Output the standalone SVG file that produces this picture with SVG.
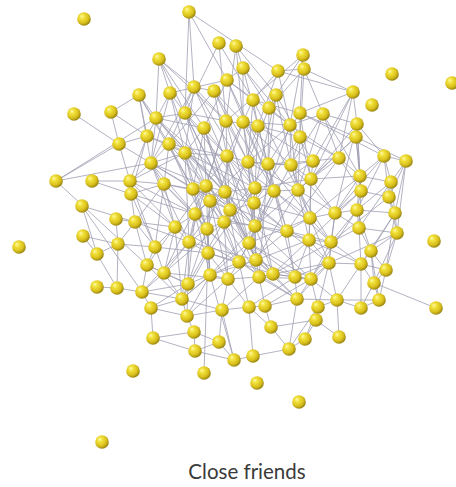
<svg xmlns="http://www.w3.org/2000/svg" width="456" height="487" viewBox="0 0 456 487">
<style>
.e line{stroke:#a09eb2;stroke-width:0.8;stroke-linecap:round}
.b{fill:url(#ball)}
.t{font-family:Lato,"Open Sans","Liberation Sans",sans-serif;font-size:20.5px;fill:#3a3a3a}
</style>
<defs>
<radialGradient id="ball" cx="0.4" cy="0.38" r="0.62" fx="0.34" fy="0.3">
<stop offset="0" stop-color="#fdf8b0"/>
<stop offset="0.28" stop-color="#f2e23c"/>
<stop offset="0.72" stop-color="#d9bf1c"/>
<stop offset="1" stop-color="#9a8712"/>
</radialGradient>
</defs>
<rect width="456" height="487" fill="#fff"/>
<g id="connectors" class="e">
<line x1="189" y1="12" x2="194" y2="87"/><line x1="189" y1="12" x2="227" y2="80"/><line x1="189" y1="12" x2="278" y2="71"/><line x1="189" y1="12" x2="185" y2="113"/>
<line x1="219" y1="43" x2="226" y2="121"/><line x1="219" y1="43" x2="253" y2="100"/>
<line x1="236" y1="46" x2="243" y2="68"/><line x1="236" y1="46" x2="276" y2="95"/><line x1="236" y1="46" x2="243" y2="122"/>
<line x1="159" y1="59" x2="194" y2="87"/><line x1="159" y1="59" x2="170" y2="93"/><line x1="159" y1="59" x2="156" y2="118"/><line x1="159" y1="59" x2="204" y2="128"/>
<line x1="243" y1="68" x2="227" y2="80"/><line x1="243" y1="68" x2="258" y2="126"/><line x1="243" y1="68" x2="269" y2="108"/>
<line x1="278" y1="71" x2="304" y2="69"/><line x1="278" y1="71" x2="353" y2="92"/><line x1="278" y1="71" x2="253" y2="100"/><line x1="278" y1="71" x2="290" y2="125"/>
<line x1="303" y1="55" x2="276" y2="95"/><line x1="303" y1="55" x2="300" y2="113"/><line x1="303" y1="55" x2="226" y2="121"/>
<line x1="304" y1="69" x2="353" y2="92"/><line x1="304" y1="69" x2="323" y2="114"/><line x1="304" y1="69" x2="269" y2="108"/>
<line x1="139" y1="95" x2="156" y2="118"/><line x1="139" y1="95" x2="169" y2="144"/><line x1="139" y1="95" x2="111" y2="112"/>
<line x1="170" y1="93" x2="185" y2="113"/><line x1="170" y1="93" x2="147" y2="136"/><line x1="170" y1="93" x2="227" y2="80"/>
<line x1="194" y1="87" x2="214" y2="91"/><line x1="194" y1="87" x2="226" y2="121"/><line x1="194" y1="87" x2="185" y2="153"/>
<line x1="214" y1="91" x2="243" y2="122"/><line x1="214" y1="91" x2="169" y2="144"/><line x1="214" y1="91" x2="248" y2="162"/>
<line x1="227" y1="80" x2="253" y2="100"/><line x1="227" y1="80" x2="290" y2="125"/>
<line x1="253" y1="100" x2="258" y2="126"/><line x1="253" y1="100" x2="227" y2="156"/><line x1="253" y1="100" x2="300" y2="113"/>
<line x1="276" y1="95" x2="269" y2="108"/><line x1="276" y1="95" x2="300" y2="137"/><line x1="276" y1="95" x2="268" y2="164"/>
<line x1="269" y1="108" x2="290" y2="125"/><line x1="269" y1="108" x2="248" y2="162"/>
<line x1="353" y1="92" x2="300" y2="113"/><line x1="353" y1="92" x2="313" y2="161"/><line x1="353" y1="92" x2="339" y2="158"/><line x1="353" y1="92" x2="357" y2="124"/>
<line x1="74" y1="114" x2="119" y2="144"/><line x1="111" y1="112" x2="147" y2="136"/>
<line x1="156" y1="118" x2="56" y2="181"/><line x1="156" y1="118" x2="185" y2="113"/><line x1="156" y1="118" x2="204" y2="128"/><line x1="156" y1="118" x2="185" y2="153"/>
<line x1="185" y1="113" x2="226" y2="121"/><line x1="185" y1="113" x2="227" y2="156"/><line x1="185" y1="113" x2="225" y2="192"/>
<line x1="226" y1="121" x2="258" y2="126"/><line x1="226" y1="121" x2="248" y2="162"/><line x1="226" y1="121" x2="206" y2="186"/>
<line x1="243" y1="122" x2="290" y2="125"/><line x1="243" y1="122" x2="291" y2="165"/><line x1="243" y1="122" x2="255" y2="188"/>
<line x1="258" y1="126" x2="300" y2="137"/><line x1="258" y1="126" x2="268" y2="164"/><line x1="258" y1="126" x2="274" y2="191"/>
<line x1="290" y1="125" x2="323" y2="114"/><line x1="290" y1="125" x2="313" y2="161"/><line x1="290" y1="125" x2="298" y2="190"/>
<line x1="300" y1="113" x2="384" y2="156"/><line x1="300" y1="113" x2="300" y2="137"/><line x1="300" y1="113" x2="356" y2="137"/>
<line x1="323" y1="114" x2="357" y2="124"/><line x1="323" y1="114" x2="339" y2="158"/><line x1="323" y1="114" x2="360" y2="176"/>
<line x1="357" y1="124" x2="356" y2="137"/><line x1="357" y1="124" x2="384" y2="156"/><line x1="357" y1="124" x2="361" y2="191"/>
<line x1="356" y1="137" x2="406" y2="161"/><line x1="356" y1="137" x2="311" y2="179"/><line x1="356" y1="137" x2="360" y2="176"/>
<line x1="300" y1="137" x2="291" y2="165"/><line x1="300" y1="137" x2="311" y2="179"/><line x1="300" y1="137" x2="339" y2="158"/>
<line x1="204" y1="128" x2="185" y2="153"/><line x1="204" y1="128" x2="227" y2="156"/><line x1="204" y1="128" x2="193" y2="189"/>
<line x1="169" y1="144" x2="147" y2="136"/><line x1="169" y1="144" x2="151" y2="163"/><line x1="169" y1="144" x2="193" y2="189"/><line x1="169" y1="144" x2="227" y2="156"/>
<line x1="147" y1="136" x2="119" y2="144"/><line x1="147" y1="136" x2="131" y2="194"/>
<line x1="119" y1="144" x2="56" y2="181"/><line x1="119" y1="144" x2="130" y2="181"/>
<line x1="56" y1="181" x2="147" y2="265"/><line x1="56" y1="181" x2="151" y2="163"/>
<line x1="92" y1="181" x2="131" y2="194"/><line x1="92" y1="181" x2="130" y2="181"/>
<line x1="130" y1="181" x2="151" y2="163"/><line x1="130" y1="181" x2="164" y2="184"/><line x1="130" y1="181" x2="195" y2="214"/>
<line x1="131" y1="194" x2="135" y2="222"/><line x1="131" y1="194" x2="175" y2="227"/><line x1="131" y1="194" x2="164" y2="184"/>
<line x1="151" y1="163" x2="185" y2="153"/><line x1="151" y1="163" x2="164" y2="184"/><line x1="151" y1="163" x2="206" y2="186"/><line x1="151" y1="163" x2="175" y2="227"/>
<line x1="185" y1="153" x2="227" y2="156"/><line x1="185" y1="153" x2="193" y2="189"/><line x1="185" y1="153" x2="210" y2="201"/><line x1="185" y1="153" x2="225" y2="192"/>
<line x1="227" y1="156" x2="248" y2="162"/><line x1="227" y1="156" x2="225" y2="192"/><line x1="227" y1="156" x2="254" y2="203"/><line x1="227" y1="156" x2="230" y2="210"/>
<line x1="248" y1="162" x2="268" y2="164"/><line x1="248" y1="162" x2="255" y2="188"/><line x1="248" y1="162" x2="255" y2="226"/>
<line x1="268" y1="164" x2="291" y2="165"/><line x1="268" y1="164" x2="274" y2="191"/><line x1="268" y1="164" x2="287" y2="231"/>
<line x1="291" y1="165" x2="313" y2="161"/><line x1="291" y1="165" x2="298" y2="190"/><line x1="291" y1="165" x2="311" y2="179"/><line x1="291" y1="165" x2="310" y2="218"/>
<line x1="164" y1="184" x2="193" y2="189"/><line x1="164" y1="184" x2="195" y2="214"/><line x1="164" y1="184" x2="175" y2="227"/><line x1="164" y1="184" x2="155" y2="247"/>
<line x1="193" y1="189" x2="206" y2="186"/><line x1="193" y1="189" x2="210" y2="201"/><line x1="193" y1="189" x2="207" y2="229"/>
<line x1="206" y1="186" x2="225" y2="192"/><line x1="206" y1="186" x2="230" y2="210"/><line x1="206" y1="186" x2="224" y2="222"/>
<line x1="225" y1="192" x2="255" y2="188"/><line x1="225" y1="192" x2="230" y2="210"/><line x1="225" y1="192" x2="255" y2="226"/>
<line x1="255" y1="188" x2="274" y2="191"/><line x1="255" y1="188" x2="254" y2="203"/><line x1="255" y1="188" x2="249" y2="243"/>
<line x1="274" y1="191" x2="298" y2="190"/><line x1="274" y1="191" x2="255" y2="226"/><line x1="274" y1="191" x2="287" y2="231"/>
<line x1="298" y1="190" x2="311" y2="179"/><line x1="298" y1="190" x2="310" y2="218"/><line x1="298" y1="190" x2="335" y2="213"/>
<line x1="210" y1="201" x2="195" y2="214"/><line x1="210" y1="201" x2="230" y2="210"/><line x1="210" y1="201" x2="207" y2="229"/><line x1="210" y1="201" x2="208" y2="253"/>
<line x1="254" y1="203" x2="230" y2="210"/><line x1="254" y1="203" x2="255" y2="226"/><line x1="254" y1="203" x2="256" y2="260"/>
<line x1="195" y1="214" x2="175" y2="227"/><line x1="195" y1="214" x2="189" y2="242"/><line x1="195" y1="214" x2="207" y2="229"/>
<line x1="230" y1="210" x2="224" y2="222"/><line x1="230" y1="210" x2="249" y2="243"/>
<line x1="224" y1="222" x2="207" y2="229"/><line x1="224" y1="222" x2="255" y2="226"/><line x1="224" y1="222" x2="239" y2="262"/>
<line x1="175" y1="227" x2="189" y2="242"/><line x1="175" y1="227" x2="155" y2="247"/><line x1="175" y1="227" x2="164" y2="273"/>
<line x1="207" y1="229" x2="189" y2="242"/><line x1="207" y1="229" x2="208" y2="253"/><line x1="207" y1="229" x2="239" y2="262"/>
<line x1="255" y1="226" x2="287" y2="231"/><line x1="255" y1="226" x2="249" y2="243"/><line x1="255" y1="226" x2="256" y2="260"/>
<line x1="287" y1="231" x2="310" y2="218"/><line x1="287" y1="231" x2="309" y2="240"/><line x1="287" y1="231" x2="295" y2="277"/>
<line x1="189" y1="242" x2="208" y2="253"/><line x1="189" y1="242" x2="164" y2="273"/><line x1="189" y1="242" x2="188" y2="284"/>
<line x1="249" y1="243" x2="256" y2="260"/><line x1="249" y1="243" x2="239" y2="262"/><line x1="249" y1="243" x2="273" y2="274"/>
<line x1="155" y1="247" x2="164" y2="273"/><line x1="155" y1="247" x2="147" y2="265"/><line x1="155" y1="247" x2="135" y2="222"/>
<line x1="208" y1="253" x2="239" y2="262"/><line x1="208" y1="253" x2="210" y2="275"/><line x1="208" y1="253" x2="228" y2="279"/>
<line x1="256" y1="260" x2="259" y2="277"/><line x1="256" y1="260" x2="273" y2="274"/>
<line x1="239" y1="262" x2="228" y2="279"/><line x1="239" y1="262" x2="210" y2="275"/>
<line x1="164" y1="273" x2="188" y2="284"/><line x1="164" y1="273" x2="142" y2="292"/><line x1="164" y1="273" x2="182" y2="299"/>
<line x1="210" y1="275" x2="228" y2="279"/><line x1="210" y1="275" x2="188" y2="284"/><line x1="210" y1="275" x2="182" y2="299"/>
<line x1="228" y1="279" x2="259" y2="277"/><line x1="228" y1="279" x2="249" y2="307"/>
<line x1="259" y1="277" x2="273" y2="274"/><line x1="259" y1="277" x2="297" y2="299"/>
<line x1="273" y1="274" x2="295" y2="277"/><line x1="273" y1="274" x2="311" y2="279"/>
<line x1="295" y1="277" x2="297" y2="299"/><line x1="295" y1="277" x2="311" y2="279"/><line x1="295" y1="277" x2="309" y2="240"/>
<line x1="188" y1="284" x2="182" y2="299"/><line x1="188" y1="284" x2="187" y2="316"/>
<line x1="182" y1="299" x2="151" y2="308"/><line x1="182" y1="299" x2="187" y2="316"/><line x1="182" y1="299" x2="222" y2="310"/>
<line x1="297" y1="299" x2="311" y2="279"/><line x1="297" y1="299" x2="337" y2="300"/>
<line x1="313" y1="161" x2="339" y2="158"/><line x1="313" y1="161" x2="311" y2="179"/>
<line x1="339" y1="158" x2="360" y2="176"/><line x1="339" y1="158" x2="361" y2="191"/>
<line x1="384" y1="156" x2="406" y2="161"/><line x1="384" y1="156" x2="360" y2="176"/><line x1="384" y1="156" x2="391" y2="182"/>
<line x1="406" y1="161" x2="391" y2="182"/><line x1="406" y1="161" x2="389" y2="197"/>
<line x1="311" y1="179" x2="360" y2="176"/><line x1="311" y1="179" x2="310" y2="218"/><line x1="311" y1="179" x2="335" y2="213"/>
<line x1="360" y1="176" x2="391" y2="182"/><line x1="360" y1="176" x2="361" y2="191"/><line x1="360" y1="176" x2="357" y2="210"/>
<line x1="391" y1="182" x2="389" y2="197"/><line x1="391" y1="182" x2="395" y2="213"/>
<line x1="361" y1="191" x2="389" y2="197"/><line x1="361" y1="191" x2="357" y2="210"/><line x1="361" y1="191" x2="335" y2="213"/>
<line x1="389" y1="197" x2="395" y2="213"/><line x1="389" y1="197" x2="397" y2="233"/>
<line x1="310" y1="218" x2="335" y2="213"/><line x1="310" y1="218" x2="309" y2="240"/><line x1="310" y1="218" x2="331" y2="242"/>
<line x1="335" y1="213" x2="357" y2="210"/><line x1="335" y1="213" x2="331" y2="242"/><line x1="335" y1="213" x2="359" y2="228"/>
<line x1="357" y1="210" x2="395" y2="213"/><line x1="357" y1="210" x2="359" y2="228"/><line x1="357" y1="210" x2="371" y2="251"/>
<line x1="395" y1="213" x2="397" y2="233"/><line x1="395" y1="213" x2="371" y2="251"/>
<line x1="359" y1="228" x2="397" y2="233"/><line x1="359" y1="228" x2="331" y2="242"/><line x1="359" y1="228" x2="361" y2="264"/>
<line x1="397" y1="233" x2="386" y2="270"/><line x1="397" y1="233" x2="371" y2="251"/>
<line x1="309" y1="240" x2="331" y2="242"/><line x1="309" y1="240" x2="311" y2="279"/><line x1="309" y1="240" x2="329" y2="263"/>
<line x1="331" y1="242" x2="329" y2="263"/><line x1="331" y1="242" x2="361" y2="264"/>
<line x1="371" y1="251" x2="361" y2="264"/><line x1="371" y1="251" x2="386" y2="270"/><line x1="371" y1="251" x2="374" y2="283"/>
<line x1="329" y1="263" x2="361" y2="264"/><line x1="329" y1="263" x2="311" y2="279"/><line x1="329" y1="263" x2="337" y2="300"/>
<line x1="361" y1="264" x2="386" y2="270"/><line x1="361" y1="264" x2="374" y2="283"/><line x1="361" y1="264" x2="337" y2="300"/>
<line x1="386" y1="270" x2="374" y2="283"/><line x1="386" y1="270" x2="379" y2="300"/>
<line x1="311" y1="279" x2="337" y2="300"/><line x1="311" y1="279" x2="318" y2="307"/>
<line x1="374" y1="283" x2="379" y2="300"/><line x1="374" y1="283" x2="436" y2="308"/>
<line x1="337" y1="300" x2="379" y2="300"/><line x1="337" y1="300" x2="339" y2="337"/><line x1="337" y1="300" x2="361" y2="308"/>
<line x1="379" y1="300" x2="361" y2="308"/>
<line x1="82" y1="206" x2="135" y2="222"/><line x1="82" y1="206" x2="97" y2="254"/><line x1="82" y1="206" x2="142" y2="292"/>
<line x1="116" y1="219" x2="135" y2="222"/><line x1="116" y1="219" x2="118" y2="244"/>
<line x1="135" y1="222" x2="118" y2="244"/><line x1="135" y1="222" x2="147" y2="265"/>
<line x1="83" y1="236" x2="118" y2="244"/><line x1="83" y1="236" x2="97" y2="254"/>
<line x1="118" y1="244" x2="97" y2="254"/><line x1="118" y1="244" x2="117" y2="288"/>
<line x1="97" y1="254" x2="117" y2="288"/>
<line x1="147" y1="265" x2="142" y2="292"/><line x1="147" y1="265" x2="164" y2="273"/>
<line x1="97" y1="287" x2="117" y2="288"/><line x1="117" y1="288" x2="142" y2="292"/>
<line x1="142" y1="292" x2="151" y2="308"/>
<line x1="151" y1="308" x2="153" y2="338"/><line x1="151" y1="308" x2="187" y2="316"/>
<line x1="153" y1="338" x2="194" y2="332"/><line x1="153" y1="338" x2="195" y2="351"/>
<line x1="222" y1="310" x2="249" y2="307"/><line x1="222" y1="310" x2="187" y2="316"/><line x1="222" y1="310" x2="219" y2="342"/>
<line x1="249" y1="307" x2="265" y2="306"/><line x1="249" y1="307" x2="271" y2="327"/>
<line x1="265" y1="306" x2="271" y2="327"/><line x1="265" y1="306" x2="297" y2="299"/>
<line x1="187" y1="316" x2="194" y2="332"/>
<line x1="194" y1="332" x2="219" y2="342"/><line x1="194" y1="332" x2="195" y2="351"/>
<line x1="219" y1="342" x2="195" y2="351"/><line x1="219" y1="342" x2="234" y2="360"/>
<line x1="271" y1="327" x2="289" y2="349"/><line x1="271" y1="327" x2="316" y2="320"/>
<line x1="305" y1="339" x2="289" y2="349"/><line x1="305" y1="339" x2="318" y2="307"/><line x1="305" y1="339" x2="316" y2="320"/>
<line x1="195" y1="351" x2="234" y2="360"/>
<line x1="234" y1="360" x2="253" y2="356"/><line x1="234" y1="360" x2="222" y2="310"/><line x1="234" y1="360" x2="210" y2="275"/>
<line x1="253" y1="356" x2="249" y2="307"/><line x1="253" y1="356" x2="289" y2="349"/>
<line x1="289" y1="349" x2="297" y2="299"/><line x1="289" y1="349" x2="318" y2="307"/>
<line x1="204" y1="373" x2="208" y2="253"/>
<line x1="318" y1="307" x2="316" y2="320"/><line x1="318" y1="307" x2="337" y2="300"/>
<line x1="361" y1="308" x2="374" y2="283"/><line x1="316" y1="320" x2="339" y2="337"/>
<line x1="194" y1="87" x2="255" y2="188"/><line x1="227" y1="80" x2="268" y2="164"/><line x1="156" y1="118" x2="225" y2="192"/><line x1="185" y1="113" x2="254" y2="203"/>
<line x1="170" y1="93" x2="185" y2="153"/><line x1="226" y1="121" x2="255" y2="226"/><line x1="243" y1="122" x2="274" y2="191"/><line x1="204" y1="128" x2="230" y2="210"/>
<line x1="169" y1="144" x2="207" y2="229"/><line x1="151" y1="163" x2="195" y2="214"/><line x1="185" y1="153" x2="189" y2="242"/><line x1="227" y1="156" x2="249" y2="243"/>
<line x1="248" y1="162" x2="256" y2="260"/><line x1="268" y1="164" x2="259" y2="277"/><line x1="193" y1="189" x2="208" y2="253"/><line x1="206" y1="186" x2="210" y2="275"/>
<line x1="225" y1="192" x2="239" y2="262"/><line x1="255" y1="188" x2="273" y2="274"/><line x1="274" y1="191" x2="295" y2="277"/><line x1="210" y1="201" x2="228" y2="279"/>
<line x1="254" y1="203" x2="287" y2="231"/><line x1="195" y1="214" x2="188" y2="284"/><line x1="230" y1="210" x2="256" y2="260"/><line x1="224" y1="222" x2="259" y2="277"/>
<line x1="175" y1="227" x2="182" y2="299"/><line x1="207" y1="229" x2="210" y2="275"/><line x1="255" y1="226" x2="273" y2="274"/><line x1="189" y1="242" x2="142" y2="292"/>
<line x1="258" y1="126" x2="313" y2="161"/><line x1="290" y1="125" x2="339" y2="158"/><line x1="300" y1="113" x2="311" y2="179"/><line x1="291" y1="165" x2="335" y2="213"/>
<line x1="298" y1="190" x2="331" y2="242"/><line x1="274" y1="191" x2="310" y2="218"/><line x1="268" y1="164" x2="313" y2="161"/><line x1="287" y1="231" x2="329" y2="263"/>
<line x1="249" y1="243" x2="311" y2="279"/><line x1="256" y1="260" x2="297" y2="299"/><line x1="239" y1="262" x2="249" y2="307"/><line x1="228" y1="279" x2="222" y2="310"/>
<line x1="273" y1="274" x2="297" y2="299"/><line x1="259" y1="277" x2="265" y2="306"/><line x1="210" y1="275" x2="187" y2="316"/><line x1="208" y1="253" x2="182" y2="299"/>
<line x1="175" y1="227" x2="147" y2="265"/><line x1="164" y1="184" x2="135" y2="222"/><line x1="169" y1="144" x2="164" y2="184"/><line x1="204" y1="128" x2="206" y2="186"/>
<line x1="214" y1="91" x2="227" y2="156"/><line x1="253" y1="100" x2="248" y2="162"/><line x1="269" y1="108" x2="268" y2="164"/><line x1="276" y1="95" x2="291" y2="165"/>
<line x1="304" y1="69" x2="300" y2="137"/><line x1="303" y1="55" x2="290" y2="125"/><line x1="243" y1="68" x2="243" y2="122"/><line x1="236" y1="46" x2="226" y2="121"/>
<line x1="219" y1="43" x2="185" y2="113"/><line x1="194" y1="87" x2="169" y2="144"/><line x1="170" y1="93" x2="151" y2="163"/><line x1="139" y1="95" x2="147" y2="136"/>
<line x1="159" y1="59" x2="185" y2="113"/><line x1="156" y1="118" x2="151" y2="163"/><line x1="226" y1="121" x2="227" y2="156"/><line x1="243" y1="122" x2="248" y2="162"/>
<line x1="258" y1="126" x2="255" y2="188"/><line x1="290" y1="125" x2="291" y2="165"/><line x1="300" y1="137" x2="298" y2="190"/><line x1="356" y1="137" x2="361" y2="191"/>
<line x1="357" y1="124" x2="360" y2="176"/><line x1="339" y1="158" x2="311" y2="179"/><line x1="384" y1="156" x2="389" y2="197"/><line x1="406" y1="161" x2="395" y2="213"/>
<line x1="360" y1="176" x2="335" y2="213"/><line x1="391" y1="182" x2="357" y2="210"/><line x1="361" y1="191" x2="359" y2="228"/><line x1="357" y1="210" x2="331" y2="242"/>
<line x1="395" y1="213" x2="386" y2="270"/><line x1="359" y1="228" x2="371" y2="251"/><line x1="397" y1="233" x2="374" y2="283"/><line x1="309" y1="240" x2="361" y2="264"/>
<line x1="331" y1="242" x2="311" y2="279"/><line x1="371" y1="251" x2="379" y2="300"/><line x1="329" y1="263" x2="318" y2="307"/><line x1="361" y1="264" x2="361" y2="308"/>
<line x1="335" y1="213" x2="329" y2="263"/><line x1="310" y1="218" x2="329" y2="263"/><line x1="311" y1="179" x2="309" y2="240"/><line x1="298" y1="190" x2="309" y2="240"/>
<line x1="287" y1="231" x2="331" y2="242"/><line x1="295" y1="277" x2="329" y2="263"/><line x1="273" y1="274" x2="309" y2="240"/><line x1="259" y1="277" x2="311" y2="279"/>
<line x1="256" y1="260" x2="295" y2="277"/><line x1="255" y1="226" x2="309" y2="240"/><line x1="254" y1="203" x2="310" y2="218"/><line x1="255" y1="188" x2="311" y2="179"/>
<line x1="248" y1="162" x2="291" y2="165"/><line x1="227" y1="156" x2="255" y2="188"/><line x1="185" y1="153" x2="206" y2="186"/><line x1="151" y1="163" x2="193" y2="189"/>
<line x1="130" y1="181" x2="175" y2="227"/><line x1="131" y1="194" x2="155" y2="247"/><line x1="135" y1="222" x2="175" y2="227"/><line x1="118" y1="244" x2="155" y2="247"/>
<line x1="147" y1="265" x2="188" y2="284"/><line x1="142" y1="292" x2="182" y2="299"/>
<line x1="156" y1="118" x2="254" y2="203"/><line x1="194" y1="87" x2="255" y2="226"/><line x1="185" y1="113" x2="224" y2="222"/><line x1="227" y1="80" x2="274" y2="191"/>
<line x1="323" y1="114" x2="291" y2="165"/><line x1="353" y1="92" x2="311" y2="179"/><line x1="357" y1="124" x2="335" y2="213"/><line x1="384" y1="156" x2="357" y2="210"/>
<line x1="406" y1="161" x2="397" y2="233"/><line x1="185" y1="153" x2="207" y2="229"/><line x1="225" y1="192" x2="256" y2="260"/><line x1="210" y1="201" x2="239" y2="262"/>
<line x1="195" y1="214" x2="210" y2="275"/><line x1="224" y1="222" x2="228" y2="279"/><line x1="230" y1="210" x2="259" y2="277"/><line x1="189" y1="242" x2="182" y2="299"/>
<line x1="207" y1="229" x2="188" y2="284"/><line x1="249" y1="243" x2="295" y2="277"/><line x1="255" y1="226" x2="311" y2="279"/><line x1="274" y1="191" x2="331" y2="242"/>
<line x1="268" y1="164" x2="310" y2="218"/><line x1="248" y1="162" x2="298" y2="190"/><line x1="227" y1="156" x2="274" y2="191"/><line x1="206" y1="186" x2="255" y2="226"/>
<line x1="193" y1="189" x2="224" y2="222"/><line x1="164" y1="184" x2="207" y2="229"/><line x1="151" y1="163" x2="189" y2="242"/><line x1="130" y1="181" x2="155" y2="247"/>
<line x1="169" y1="144" x2="206" y2="186"/><line x1="204" y1="128" x2="225" y2="192"/><line x1="139" y1="95" x2="151" y2="163"/><line x1="111" y1="112" x2="119" y2="144"/>
<line x1="147" y1="136" x2="130" y2="181"/>
<line x1="156" y1="118" x2="255" y2="226"/><line x1="185" y1="113" x2="249" y2="243"/><line x1="204" y1="128" x2="256" y2="260"/><line x1="226" y1="121" x2="189" y2="242"/>
<line x1="243" y1="122" x2="207" y2="229"/><line x1="258" y1="126" x2="224" y2="222"/><line x1="290" y1="125" x2="255" y2="226"/><line x1="300" y1="137" x2="254" y2="203"/>
<line x1="169" y1="144" x2="255" y2="188"/><line x1="151" y1="163" x2="230" y2="210"/><line x1="185" y1="153" x2="287" y2="231"/><line x1="227" y1="156" x2="175" y2="227"/>
<line x1="248" y1="162" x2="195" y2="214"/><line x1="268" y1="164" x2="224" y2="222"/><line x1="291" y1="165" x2="249" y2="243"/><line x1="164" y1="184" x2="254" y2="203"/>
<line x1="193" y1="189" x2="287" y2="231"/><line x1="206" y1="186" x2="164" y2="273"/><line x1="225" y1="192" x2="189" y2="242"/><line x1="255" y1="188" x2="208" y2="253"/>
<line x1="274" y1="191" x2="239" y2="262"/><line x1="298" y1="190" x2="256" y2="260"/><line x1="210" y1="201" x2="273" y2="274"/><line x1="195" y1="214" x2="255" y2="226"/>
<line x1="230" y1="210" x2="188" y2="284"/><line x1="224" y1="222" x2="164" y2="273"/><line x1="175" y1="227" x2="239" y2="262"/><line x1="207" y1="229" x2="259" y2="277"/>
<line x1="255" y1="226" x2="210" y2="275"/><line x1="287" y1="231" x2="228" y2="279"/><line x1="189" y1="242" x2="256" y2="260"/><line x1="249" y1="243" x2="182" y2="299"/>
<line x1="155" y1="247" x2="208" y2="253"/><line x1="208" y1="253" x2="273" y2="274"/><line x1="256" y1="260" x2="210" y2="275"/><line x1="239" y1="262" x2="297" y2="299"/>
<line x1="164" y1="273" x2="228" y2="279"/><line x1="214" y1="91" x2="274" y2="191"/><line x1="194" y1="87" x2="151" y2="163"/><line x1="170" y1="93" x2="206" y2="186"/>
<line x1="139" y1="95" x2="193" y2="189"/><line x1="253" y1="100" x2="298" y2="190"/><line x1="276" y1="95" x2="255" y2="188"/><line x1="227" y1="80" x2="204" y2="128"/>
<line x1="159" y1="59" x2="226" y2="121"/><line x1="243" y1="68" x2="290" y2="125"/><line x1="278" y1="71" x2="258" y2="126"/><line x1="313" y1="161" x2="254" y2="203"/>
<line x1="311" y1="179" x2="255" y2="226"/><line x1="339" y1="158" x2="287" y2="231"/><line x1="310" y1="218" x2="249" y2="243"/><line x1="309" y1="240" x2="256" y2="260"/>
<line x1="331" y1="242" x2="273" y2="274"/><line x1="329" y1="263" x2="259" y2="277"/><line x1="360" y1="176" x2="310" y2="218"/><line x1="361" y1="191" x2="309" y2="240"/>
<line x1="357" y1="210" x2="311" y2="279"/><line x1="384" y1="156" x2="335" y2="213"/><line x1="391" y1="182" x2="359" y2="228"/><line x1="389" y1="197" x2="331" y2="242"/>
<line x1="395" y1="213" x2="361" y2="264"/><line x1="397" y1="233" x2="329" y2="263"/><line x1="356" y1="137" x2="298" y2="190"/><line x1="357" y1="124" x2="311" y2="179"/>
<line x1="323" y1="114" x2="298" y2="190"/><line x1="300" y1="113" x2="268" y2="164"/><line x1="290" y1="125" x2="248" y2="162"/><line x1="131" y1="194" x2="195" y2="214"/>
<line x1="130" y1="181" x2="185" y2="153"/><line x1="147" y1="136" x2="185" y2="153"/><line x1="119" y1="144" x2="151" y2="163"/><line x1="135" y1="222" x2="189" y2="242"/>
<line x1="147" y1="265" x2="182" y2="299"/><line x1="142" y1="292" x2="188" y2="284"/><line x1="151" y1="308" x2="188" y2="284"/><line x1="187" y1="316" x2="228" y2="279"/>
<line x1="222" y1="310" x2="259" y2="277"/><line x1="249" y1="307" x2="295" y2="277"/><line x1="265" y1="306" x2="311" y2="279"/><line x1="297" y1="299" x2="329" y2="263"/>
</g>
<g id="nodes">
<g id="n1"><circle class="b" cx="84" cy="19" r="6.8"/></g>
<g id="n2"><circle class="b" cx="189" cy="12" r="6.8"/></g>
<g id="n3"><circle class="b" cx="219" cy="43" r="6.8"/></g>
<g id="n4"><circle class="b" cx="236" cy="46" r="6.8"/></g>
<g id="n5"><circle class="b" cx="159" cy="59" r="6.8"/></g>
<g id="n6"><circle class="b" cx="243" cy="68" r="6.8"/></g>
<g id="n7"><circle class="b" cx="278" cy="71" r="6.8"/></g>
<g id="n8"><circle class="b" cx="303" cy="55" r="6.8"/></g>
<g id="n9"><circle class="b" cx="304" cy="69" r="6.8"/></g>
<g id="n10"><circle class="b" cx="392" cy="74" r="6.8"/></g>
<g id="n11"><circle class="b" cx="452" cy="83" r="6.8"/></g>
<g id="n12"><circle class="b" cx="139" cy="95" r="6.8"/></g>
<g id="n13"><circle class="b" cx="170" cy="93" r="6.8"/></g>
<g id="n14"><circle class="b" cx="194" cy="87" r="6.8"/></g>
<g id="n15"><circle class="b" cx="214" cy="91" r="6.8"/></g>
<g id="n16"><circle class="b" cx="227" cy="80" r="6.8"/></g>
<g id="n17"><circle class="b" cx="253" cy="100" r="6.8"/></g>
<g id="n18"><circle class="b" cx="276" cy="95" r="6.8"/></g>
<g id="n19"><circle class="b" cx="269" cy="108" r="6.8"/></g>
<g id="n20"><circle class="b" cx="353" cy="92" r="6.8"/></g>
<g id="n21"><circle class="b" cx="372" cy="105" r="6.8"/></g>
<g id="n22"><circle class="b" cx="74" cy="114" r="6.8"/></g>
<g id="n23"><circle class="b" cx="111" cy="112" r="6.8"/></g>
<g id="n24"><circle class="b" cx="156" cy="118" r="6.8"/></g>
<g id="n25"><circle class="b" cx="185" cy="113" r="6.8"/></g>
<g id="n26"><circle class="b" cx="226" cy="121" r="6.8"/></g>
<g id="n27"><circle class="b" cx="243" cy="122" r="6.8"/></g>
<g id="n28"><circle class="b" cx="258" cy="126" r="6.8"/></g>
<g id="n29"><circle class="b" cx="290" cy="125" r="6.8"/></g>
<g id="n30"><circle class="b" cx="300" cy="113" r="6.8"/></g>
<g id="n31"><circle class="b" cx="323" cy="114" r="6.8"/></g>
<g id="n32"><circle class="b" cx="357" cy="124" r="6.8"/></g>
<g id="n33"><circle class="b" cx="356" cy="137" r="6.8"/></g>
<g id="n34"><circle class="b" cx="300" cy="137" r="6.8"/></g>
<g id="n35"><circle class="b" cx="204" cy="128" r="6.8"/></g>
<g id="n36"><circle class="b" cx="169" cy="144" r="6.8"/></g>
<g id="n37"><circle class="b" cx="147" cy="136" r="6.8"/></g>
<g id="n38"><circle class="b" cx="119" cy="144" r="6.8"/></g>
<g id="n39"><circle class="b" cx="56" cy="181" r="6.8"/></g>
<g id="n40"><circle class="b" cx="92" cy="181" r="6.8"/></g>
<g id="n41"><circle class="b" cx="130" cy="181" r="6.8"/></g>
<g id="n42"><circle class="b" cx="131" cy="194" r="6.8"/></g>
<g id="n43"><circle class="b" cx="151" cy="163" r="6.8"/></g>
<g id="n44"><circle class="b" cx="185" cy="153" r="6.8"/></g>
<g id="n45"><circle class="b" cx="227" cy="156" r="6.8"/></g>
<g id="n46"><circle class="b" cx="248" cy="162" r="6.8"/></g>
<g id="n47"><circle class="b" cx="268" cy="164" r="6.8"/></g>
<g id="n48"><circle class="b" cx="291" cy="165" r="6.8"/></g>
<g id="n50"><circle class="b" cx="164" cy="184" r="6.8"/></g>
<g id="n51"><circle class="b" cx="193" cy="189" r="6.8"/></g>
<g id="n52"><circle class="b" cx="206" cy="186" r="6.8"/></g>
<g id="n53"><circle class="b" cx="225" cy="192" r="6.8"/></g>
<g id="n54"><circle class="b" cx="255" cy="188" r="6.8"/></g>
<g id="n55"><circle class="b" cx="274" cy="191" r="6.8"/></g>
<g id="n56"><circle class="b" cx="298" cy="190" r="6.8"/></g>
<g id="n57"><circle class="b" cx="210" cy="201" r="6.8"/></g>
<g id="n58"><circle class="b" cx="254" cy="203" r="6.8"/></g>
<g id="n59"><circle class="b" cx="195" cy="214" r="6.8"/></g>
<g id="n60"><circle class="b" cx="230" cy="210" r="6.8"/></g>
<g id="n61"><circle class="b" cx="224" cy="222" r="6.8"/></g>
<g id="n62"><circle class="b" cx="175" cy="227" r="6.8"/></g>
<g id="n63"><circle class="b" cx="207" cy="229" r="6.8"/></g>
<g id="n64"><circle class="b" cx="255" cy="226" r="6.8"/></g>
<g id="n65"><circle class="b" cx="287" cy="231" r="6.8"/></g>
<g id="n66"><circle class="b" cx="189" cy="242" r="6.8"/></g>
<g id="n67"><circle class="b" cx="249" cy="243" r="6.8"/></g>
<g id="n68"><circle class="b" cx="155" cy="247" r="6.8"/></g>
<g id="n69"><circle class="b" cx="208" cy="253" r="6.8"/></g>
<g id="n70"><circle class="b" cx="256" cy="260" r="6.8"/></g>
<g id="n71"><circle class="b" cx="239" cy="262" r="6.8"/></g>
<g id="n72"><circle class="b" cx="164" cy="273" r="6.8"/></g>
<g id="n73"><circle class="b" cx="210" cy="275" r="6.8"/></g>
<g id="n74"><circle class="b" cx="228" cy="279" r="6.8"/></g>
<g id="n75"><circle class="b" cx="259" cy="277" r="6.8"/></g>
<g id="n76"><circle class="b" cx="273" cy="274" r="6.8"/></g>
<g id="n77"><circle class="b" cx="295" cy="277" r="6.8"/></g>
<g id="n78"><circle class="b" cx="188" cy="284" r="6.8"/></g>
<g id="n79"><circle class="b" cx="182" cy="299" r="6.8"/></g>
<g id="n80"><circle class="b" cx="297" cy="299" r="6.8"/></g>
<g id="n81"><circle class="b" cx="313" cy="161" r="6.8"/></g>
<g id="n82"><circle class="b" cx="339" cy="158" r="6.8"/></g>
<g id="n83"><circle class="b" cx="384" cy="156" r="6.8"/></g>
<g id="n84"><circle class="b" cx="406" cy="161" r="6.8"/></g>
<g id="n85"><circle class="b" cx="311" cy="179" r="6.8"/></g>
<g id="n86"><circle class="b" cx="360" cy="176" r="6.8"/></g>
<g id="n87"><circle class="b" cx="391" cy="182" r="6.8"/></g>
<g id="n88"><circle class="b" cx="361" cy="191" r="6.8"/></g>
<g id="n89"><circle class="b" cx="389" cy="197" r="6.8"/></g>
<g id="n90"><circle class="b" cx="310" cy="218" r="6.8"/></g>
<g id="n91"><circle class="b" cx="335" cy="213" r="6.8"/></g>
<g id="n92"><circle class="b" cx="357" cy="210" r="6.8"/></g>
<g id="n93"><circle class="b" cx="395" cy="213" r="6.8"/></g>
<g id="n94"><circle class="b" cx="359" cy="228" r="6.8"/></g>
<g id="n95"><circle class="b" cx="397" cy="233" r="6.8"/></g>
<g id="n96"><circle class="b" cx="434" cy="241" r="6.8"/></g>
<g id="n97"><circle class="b" cx="309" cy="240" r="6.8"/></g>
<g id="n98"><circle class="b" cx="331" cy="242" r="6.8"/></g>
<g id="n99"><circle class="b" cx="371" cy="251" r="6.8"/></g>
<g id="n100"><circle class="b" cx="329" cy="263" r="6.8"/></g>
<g id="n101"><circle class="b" cx="361" cy="264" r="6.8"/></g>
<g id="n102"><circle class="b" cx="386" cy="270" r="6.8"/></g>
<g id="n103"><circle class="b" cx="311" cy="279" r="6.8"/></g>
<g id="n104"><circle class="b" cx="374" cy="283" r="6.8"/></g>
<g id="n105"><circle class="b" cx="337" cy="300" r="6.8"/></g>
<g id="n106"><circle class="b" cx="379" cy="300" r="6.8"/></g>
<g id="n107"><circle class="b" cx="82" cy="206" r="6.8"/></g>
<g id="n108"><circle class="b" cx="116" cy="219" r="6.8"/></g>
<g id="n109"><circle class="b" cx="135" cy="222" r="6.8"/></g>
<g id="n110"><circle class="b" cx="83" cy="236" r="6.8"/></g>
<g id="n111"><circle class="b" cx="19" cy="247" r="6.8"/></g>
<g id="n112"><circle class="b" cx="118" cy="244" r="6.8"/></g>
<g id="n113"><circle class="b" cx="97" cy="254" r="6.8"/></g>
<g id="n114"><circle class="b" cx="147" cy="265" r="6.8"/></g>
<g id="n115"><circle class="b" cx="97" cy="287" r="6.8"/></g>
<g id="n116"><circle class="b" cx="117" cy="288" r="6.8"/></g>
<g id="n117"><circle class="b" cx="142" cy="292" r="6.8"/></g>
<g id="n118"><circle class="b" cx="151" cy="308" r="6.8"/></g>
<g id="n119"><circle class="b" cx="153" cy="338" r="6.8"/></g>
<g id="n120"><circle class="b" cx="133" cy="371" r="6.8"/></g>
<g id="n121"><circle class="b" cx="102" cy="442" r="6.8"/></g>
<g id="n123"><circle class="b" cx="222" cy="310" r="6.8"/></g>
<g id="n124"><circle class="b" cx="249" cy="307" r="6.8"/></g>
<g id="n125"><circle class="b" cx="265" cy="306" r="6.8"/></g>
<g id="n128"><circle class="b" cx="187" cy="316" r="6.8"/></g>
<g id="n129"><circle class="b" cx="194" cy="332" r="6.8"/></g>
<g id="n130"><circle class="b" cx="219" cy="342" r="6.8"/></g>
<g id="n131"><circle class="b" cx="271" cy="327" r="6.8"/></g>
<g id="n132"><circle class="b" cx="305" cy="339" r="6.8"/></g>
<g id="n133"><circle class="b" cx="195" cy="351" r="6.8"/></g>
<g id="n134"><circle class="b" cx="234" cy="360" r="6.8"/></g>
<g id="n135"><circle class="b" cx="253" cy="356" r="6.8"/></g>
<g id="n136"><circle class="b" cx="289" cy="349" r="6.8"/></g>
<g id="n137"><circle class="b" cx="204" cy="373" r="6.8"/></g>
<g id="n138"><circle class="b" cx="257" cy="383" r="6.8"/></g>
<g id="n139"><circle class="b" cx="299" cy="402" r="6.8"/></g>
<g id="n140"><circle class="b" cx="318" cy="307" r="6.8"/></g>
<g id="n142"><circle class="b" cx="361" cy="308" r="6.8"/></g>
<g id="n144"><circle class="b" cx="436" cy="308" r="6.8"/></g>
<g id="n145"><circle class="b" cx="316" cy="320" r="6.8"/></g>
<g id="n146"><circle class="b" cx="339" cy="337" r="6.8"/></g>
</g>
<text class="t" x="247" y="479" text-anchor="middle">Close friends</text>
</svg>
